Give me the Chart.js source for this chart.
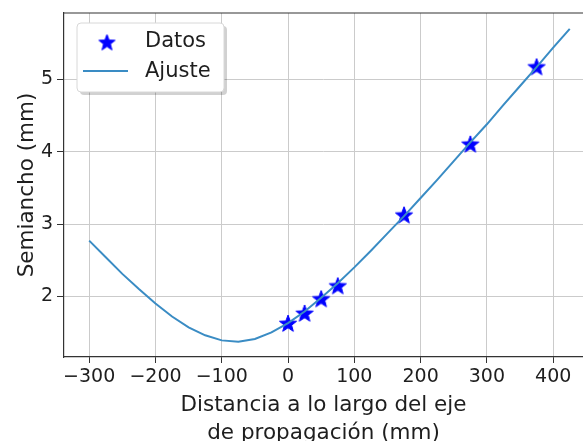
<!DOCTYPE html>
<html>
<head>
<meta charset="utf-8">
<script src="https://cdn.jsdelivr.net/npm/chart.js@4/dist/chart.umd.min.js"></script>
<style>
  html, body { margin: 0; padding: 0; background: #fff; overflow: hidden; }
</style>
</head>
<body>
<canvas id="myChart" width="583" height="441"></canvas>
<script>
// ticks
const xTicks = [-300, -200, -100, 0, 100, 200, 300, 400];
const yTicks = [2, 3, 4, 5];

// measured points (Datos)
const dataX = [0, 25, 50, 75, 175, 275, 375];
const dataY = [1.63, 1.77, 1.97, 2.15, 3.13, 4.11, 5.18];

// fitted curve (Ajuste)
const fitX = [-300, -275, -250, -225, -200, -175, -150, -125, -100, -75, -50, -25, 0,
              25, 50, 75, 100, 125, 150, 175, 200, 225, 250, 275, 300, 325, 350, 375, 400, 425];
const fitY = [2.77, 2.54, 2.31, 2.10, 1.90, 1.72, 1.57, 1.46, 1.39, 1.37, 1.41, 1.50, 1.63,
              1.79, 1.98, 2.18, 2.40, 2.63, 2.87, 3.11, 3.36, 3.61, 3.87, 4.13, 4.38, 4.65, 4.91, 5.17, 5.44, 5.70];

const FONT = 'DejaVu Sans';
const TXT = '#1e1e1e';

// filled five point star marker
function makeStar(r, color) {
    let c = document.createElement('canvas');
    let s = Math.ceil(r * 2 + 4);
    c.width = s; c.height = s;
    let g = c.getContext('2d');
    let cx = s / 2, cy = s / 2 + 1;
    g.beginPath();
    for (let i = 0; i < 10; i++) {
        let rad = (i % 2 === 0) ? r : r * 0.42;
        let a = -Math.PI / 2 + i * Math.PI / 5;
        let px = cx + rad * Math.cos(a), py = cy + rad * Math.sin(a);
        if (i === 0) g.moveTo(px, py); else g.lineTo(px, py);
    }
    g.closePath();
    g.fillStyle = color;
    g.fill();
    g.strokeStyle = color;
    g.lineWidth = 1;
    g.stroke();
    return c;
}
const star = makeStar(9, '#0000ff');
const legendStar = makeStar(8.5, '#0000ff');

// top spine (right spine falls outside the picture)
const framePlugin = {
    id: 'frame',
    afterDatasetsDraw(chart) {
        let a = chart.chartArea, ctx = chart.ctx;
        ctx.save();
        ctx.strokeStyle = '#333';
        ctx.lineWidth = 1.2;
        ctx.beginPath();
        ctx.moveTo(a.left, a.top);
        ctx.lineTo(chart.width, a.top);
        ctx.stroke();
        ctx.restore();
    }
};

// matplotlib-like legend box in upper left
const legendPlugin = {
    id: 'mplLegend',
    afterDraw(chart) {
        let ctx = chart.ctx;
        let x = 77, y = 23, w = 147, h = 69, r = 4;
        ctx.save();
        ctx.fillStyle = 'rgba(0,0,0,0.18)';
        ctx.beginPath(); ctx.roundRect(x + 3, y + 3, w, h, r); ctx.fill();
        ctx.fillStyle = '#fff';
        ctx.strokeStyle = '#d8d8d8';
        ctx.lineWidth = 1;
        ctx.beginPath(); ctx.roundRect(x, y, w, h, r); ctx.fill(); ctx.stroke();

        ctx.drawImage(legendStar, 107 - legendStar.width / 2, 42 - legendStar.height / 2);
        ctx.strokeStyle = '#3a8cc4';
        ctx.lineWidth = 2;
        ctx.beginPath(); ctx.moveTo(83, 71); ctx.lineTo(128, 71); ctx.stroke();

        ctx.fillStyle = TXT;
        ctx.font = '21px "' + FONT + '"';
        ctx.textBaseline = 'middle';
        ctx.fillText('Datos', 145, 42);
        ctx.fillText('Ajuste', 145, 72);
        ctx.restore();
    }
};

function fmt(v) {
    return v < 0 ? '\u2212' + Math.abs(v) : String(v);
}

let ctx = document.getElementById('myChart');
new Chart(ctx, {
    type: 'scatter',
    data: {
        datasets: [{
            label: 'Datos',
            data: dataX.map((x, i) => ({ x: x, y: dataY[i] })),
            pointStyle: star,
            pointRadius: 9,
            showLine: false,
            order: 1
        }, {
            label: 'Ajuste',
            data: fitX.map((x, i) => ({ x: x, y: fitY[i] })),
            showLine: true,
            borderColor: '#3a8cc4',
            borderWidth: 2,
            pointRadius: 0,
            tension: 0,
            order: 0
        }]
    },
    options: {
        responsive: false,
        animation: false,
        layout: { autoPadding: false, padding: { top: 13, right: 0, left: 0, bottom: 0 } },
        plugins: {
            legend: { display: false },
            tooltip: { enabled: false }
        },
        scales: {
            x: {
                type: 'linear',
                min: -338,
                max: 445,
                afterBuildTicks: s => { s.ticks = xTicks.map(v => ({ value: v })); },
                afterFit: s => { s.height = 84; s.paddingLeft = 0; s.paddingRight = 0; },
                ticks: {
                    color: TXT,
                    font: { family: FONT, size: 19 },
                    padding: 3,
                    maxRotation: 0,
                    callback: v => fmt(v)
                },
                grid: { color: '#cbcbcb', lineWidth: 1, tickLength: 6, tickColor: '#333' },
                border: { color: '#333', width: 1.2 },
                title: {
                    display: true,
                    text: ['Distancia a lo largo del eje', 'de propagación (mm)'],
                    color: TXT,
                    font: { family: FONT, size: 21.5, lineHeight: 1.3 },
                    padding: { top: 0, bottom: -6 }
                }
            },
            y: {
                type: 'linear',
                min: 1.16,
                max: 5.92,
                afterBuildTicks: s => { s.ticks = yTicks.map(v => ({ value: v })); },
                afterFit: s => { s.width = 64; s.paddingTop = 0; s.paddingBottom = 0; },
                ticks: {
                    color: TXT,
                    font: { family: FONT, size: 19 },
                    padding: 4
                },
                grid: { color: '#cbcbcb', lineWidth: 1, tickLength: 7, tickColor: '#333' },
                border: { color: '#333', width: 1.2 },
                title: {
                    display: true,
                    text: 'Semiancho (mm)',
                    color: TXT,
                    font: { family: FONT, size: 21.5 },
                    padding: { top: 15, bottom: 0 }
                }
            }
        }
    },
    plugins: [framePlugin, legendPlugin]
});
</script>
</body>
</html>
